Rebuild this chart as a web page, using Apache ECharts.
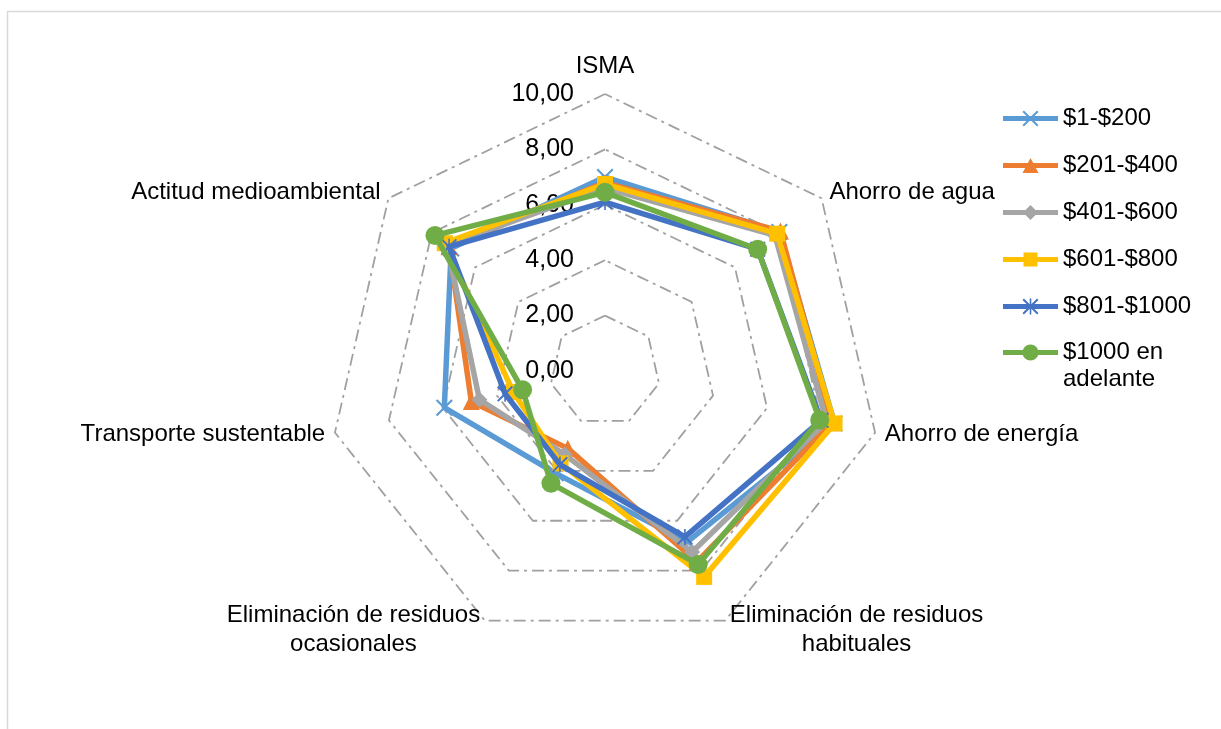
<!DOCTYPE html>
<html>
<head>
<meta charset="utf-8">
<script src="https://cdn.jsdelivr.net/npm/echarts@6/dist/echarts.min.js"></script>
<style>
  html, body { margin: 0; padding: 0; background: #ffffff; }
  #chart { width: 1221px; height: 729px; }
</style>
</head>
<body>
<div id="chart"></div>
<script>
// Dimensions of the index, in the order they are listed
const indicators = [
  'ISMA',
  'Ahorro de agua',
  'Ahorro de energía',
  'Eliminación de residuos habituales',
  'Eliminación de residuos ocasionales',
  'Transporte sustentable',
  'Actitud medioambiental'
];

// Income groups
const groups = ['$1-$200', '$201-$400', '$401-$600', '$601-$800', '$801-$1000', '$1000 en adelante'];

// Scores per group, same order as indicators
const values1 = [7.00, 8.05, 8.50, 6.85, 4.10, 5.95, 7.10];
const values2 = [6.80, 8.10, 8.40, 7.65, 3.10, 4.95, 7.20];
const values3 = [6.60, 7.85, 8.20, 7.25, 3.35, 4.65, 7.30];
const values4 = [6.75, 7.95, 8.50, 8.25, 3.70, 3.40, 7.40];
const values5 = [6.10, 7.05, 8.00, 6.65, 3.75, 3.70, 7.20];
const values6 = [6.45, 7.05, 7.95, 7.75, 4.50, 3.05, 7.85];

const scaleMax = 10;
const scaleSplits = 5;

const colors = ['#5B9BD5', '#ED7D31', '#A5A5A5', '#FFC000', '#4472C4', '#70AD47'];

// Marker shapes
const xMark = 'M1.4,0 L8,6.6 L14.6,0 L16,1.4 L9.4,8 L16,14.6 L14.6,16 L8,9.4 L1.4,16 L0,14.6 L6.6,8 L0,1.4 Z';
const starMark = xMark + ' M7.2,0 L8.8,0 L8.8,16 L7.2,16 Z';
const symbols = [
  'path://' + xMark,
  'triangle',
  'diamond',
  'rect',
  'path://' + starMark,
  'circle'
];
const symbolSizes = [17, 17, 16, 16, 16, 19];

// Legend icons: a line with the marker in its middle (55 x 16 box)
function shift(path, dx) {
  return path.replace(/(-?\d+(?:\.\d+)?),(-?\d+(?:\.\d+)?)/g, (m, a, b) => (parseFloat(a) + dx) + ',' + b);
}
const bar = 'M0,5.5 L55,5.5 L55,10.5 L0,10.5 Z ';
const legendIcons = [
  'path://' + bar + shift(xMark, 19.5),
  'path://' + bar + 'M27.5,0.5 L35.5,15.5 L19.5,15.5 Z',
  'path://' + bar + 'M27.5,0.5 L35,8 L27.5,15.5 L20,8 Z',
  'path://' + bar + 'M20.5,1 L34.5,1 L34.5,15 L20.5,15 Z',
  'path://' + bar + shift(starMark, 19.5),
  'path://' + bar + 'M27.5,0 A8,8 0 1 1 27.49,0 Z'
];

const seriesValues = [values1, values2, values3, values4, values5, values6];

// ECharts lays indicators out counter-clockwise; the chart reads clockwise from the top
const order = [0, 6, 5, 4, 3, 2, 1];

const font = "'Liberation Sans', Arial, sans-serif";

const indicatorOpts = order.map((i, k) => {
  const o = { name: indicators[i], min: 0, max: scaleMax };
  if (k === 0) {
    o.axisLabel = {
      show: true,
      margin: 31,
      fontSize: 25,
      fontFamily: font,
      color: '#000',
      formatter: v => v.toFixed(2).replace('.', ',')
    };
  }
  return o;
});

const series = groups.map((g, s) => ({
  type: 'radar',
  name: g,
  symbol: symbols[s],
  symbolSize: symbolSizes[s],
  color: colors[s],
  lineStyle: { color: colors[s], width: 5.5 },
  itemStyle: { color: colors[s], borderWidth: 0 },
  z: 2 + s,
  data: [{ name: g, value: order.map(i => seriesValues[s][i]) }]
}));

const legendBase = {
  orient: 'vertical',
  left: 1003,
  padding: 0,
  itemWidth: 55,
  itemHeight: 16,
  itemGap: 20,
  textStyle: { fontSize: 24, fontFamily: font, color: '#000', lineHeight: 27 }
};

const chart = echarts.init(document.getElementById('chart'));
chart.setOption({
  backgroundColor: '#ffffff',
  animation: false,
  graphic: [{
    type: 'rect',
    shape: { x: 7.5, y: 11.5, width: 1400, height: 900 },
    style: { fill: 'none', stroke: '#d9d9d9', lineWidth: 1.5 },
    silent: true
  }],
  legend: [
    Object.assign({}, legendBase, {
      top: 105,
      data: groups.slice(0, 5).map((g, s) => ({ name: g, icon: legendIcons[s] }))
    }),
    // last group wraps onto two lines, first line level with its icon
    Object.assign({}, legendBase, {
      top: 312,
      formatter: name => '\n' + name.replace(' en ', ' en\n'),
      data: [{ name: groups[5], icon: legendIcons[5] }]
    })
  ],
  radar: {
    center: [605, 371],
    radius: 277,
    startAngle: 90,
    shape: 'polygon',
    splitNumber: scaleSplits,
    indicator: indicatorOpts,
    axisNameGap: 10,
    axisName: {
      color: '#000',
      fontSize: 24,
      fontFamily: font,
      formatter: name => {
        if (name === 'ISMA') return '{top|ISMA}';
        if (name.startsWith('Eliminación')) {
          const parts = name.split(' ');
          return '{two|' + parts.slice(0, 3).join(' ') + '}\n{two|' + parts.slice(3).join(' ') + '}';
        }
        return name;
      },
      rich: {
        top: { fontSize: 24, fontFamily: font, color: '#000', padding: [0, 0, 6, 0] },
        two: { fontSize: 24, fontFamily: font, color: '#000', width: 254, align: 'center', lineHeight: 29 }
      }
    },
    axisLine: { show: false },
    axisTick: { show: false },
    splitArea: { show: false },
    splitLine: {
      lineStyle: { color: '#a0a0a0', width: 1.8, type: [12, 5, 3, 5] }
    }
  },
  series: series
});
</script>
</body>
</html>
